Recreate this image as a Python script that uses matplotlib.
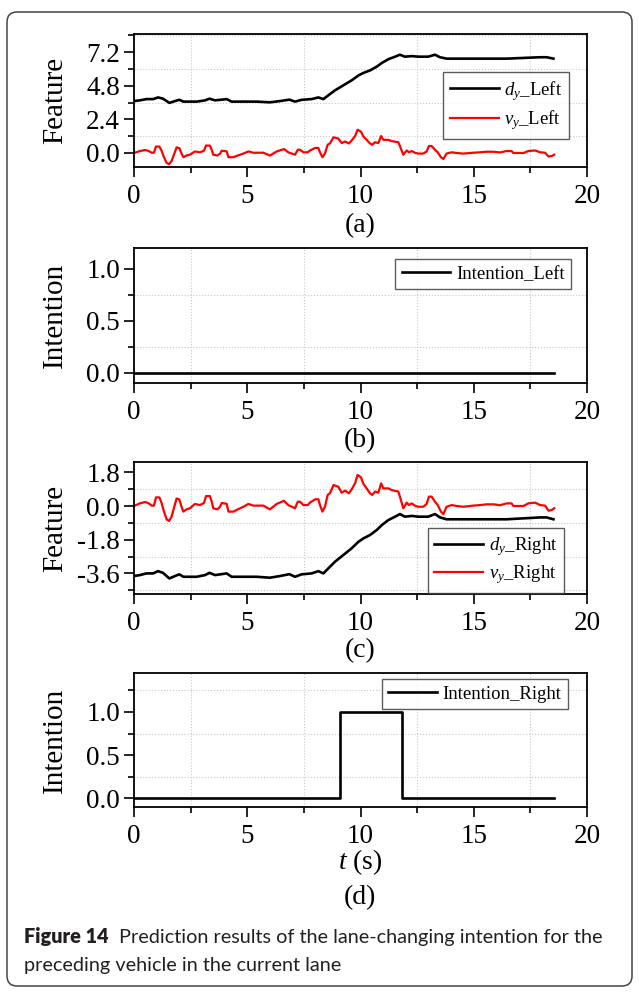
import matplotlib
matplotlib.use("Agg")
import matplotlib.pyplot as plt
import numpy as np
from matplotlib.patches import FancyBboxPatch
from matplotlib.transforms import IdentityTransform
from matplotlib.ticker import MultipleLocator, FormatStrFormatter

plt.rcParams['font.family'] = ['Liberation Serif', 'DejaVu Serif']
plt.rcParams['mathtext.fontset'] = 'custom'
plt.rcParams['mathtext.rm'] = 'Liberation Serif'
plt.rcParams['mathtext.it'] = 'Liberation Serif:italic'
plt.rcParams['axes.unicode_minus'] = False

# lateral velocity (same for left/right panels)
t_v = [0.0, 0.26, 0.48, 0.63, 0.78, 0.88, 0.97, 1.12, 1.22, 1.30,
       1.44, 1.55, 1.66, 1.78, 1.88, 2.0, 2.1, 2.18, 2.32, 2.47,
       2.69, 2.91, 3.09, 3.18, 3.35, 3.43, 3.5, 3.68, 3.8, 3.87,
       4.09, 4.17, 4.39, 4.53, 4.83, 5.05, 5.27, 5.71, 6.0, 6.3,
       6.62, 6.81, 7.11, 7.23, 7.33, 7.48, 7.67, 7.77, 8.0, 8.14,
       8.21, 8.32, 8.43, 8.55, 8.65, 8.81, 9.02, 9.17, 9.32, 9.49,
       9.61, 9.76, 9.87, 10.02, 10.13, 10.27, 10.42, 10.52, 10.64, 10.79,
       10.91, 11.01, 11.23, 11.38, 11.67, 11.74, 11.89, 12.04, 12.14, 12.26,
       12.43, 12.55, 12.77, 12.92, 13.02, 13.14, 13.29, 13.41, 13.55, 13.66,
       13.8, 14.03, 14.25, 14.54, 14.98, 15.28, 15.57, 15.87, 16.16, 16.45,
       16.67, 16.75, 17.19, 17.41, 17.71, 17.93, 18.15, 18.3, 18.45, 18.55]
v_y = [0.0, 0.14, 0.21, 0.16, 0.02, 0.02, 0.46, 0.46, 0.16, -0.21,
       -0.71, -0.80, -0.57, -0.04, 0.40, 0.35, -0.04, -0.30, -0.18, -0.12,
       0.11, 0.05, 0.16, 0.53, 0.53, 0.23, -0.12, -0.18, -0.04, 0.16,
       0.12, -0.30, -0.30, -0.21, -0.04, 0.11, 0.02, 0.02, -0.18, 0.11,
       0.28, 0.05, -0.12, 0.23, 0.23, 0.05, 0.05, 0.18, 0.36, 0.36,
       0.05, -0.30, -0.04, 0.59, 0.68, 1.12, 1.03, 0.71, 0.82, 0.68,
       0.89, 1.21, 1.66, 1.53, 1.18, 0.94, 0.68, 0.59, 0.77, 0.71,
       1.21, 0.94, 0.94, 0.85, 0.77, 0.50, -0.12, 0.18, 0.05, 0.14,
       0.0, -0.04, -0.04, 0.11, 0.50, 0.50, 0.23, 0.05, -0.30, -0.43,
       -0.04, 0.05, 0.0, -0.04, 0.02, 0.05, 0.09, 0.09, 0.04, 0.14,
       0.14, 0.0, 0.0, 0.14, 0.18, 0.05, 0.02, -0.25, -0.21, -0.12]

# lateral distance to the left / right lane line
t_d = [0.0, 0.26, 0.55, 0.85, 1.06, 1.28, 1.56, 1.81, 2.0, 2.18,
       2.77, 3.14, 3.33, 3.58, 3.87, 4.09, 4.31, 4.83, 5.42, 6.0,
       6.45, 6.86, 7.11, 7.4, 7.84, 8.14, 8.36, 8.58, 8.87, 9.24,
       9.61, 9.91, 10.13, 10.42, 10.72, 10.94, 11.23, 11.53, 11.74, 11.96,
       12.26, 12.55, 12.99, 13.29, 13.51, 13.8, 14.98, 16.45, 17.93, 18.22, 18.52]
d_left = [3.71, 3.76, 3.85, 3.85, 3.97, 3.88, 3.58, 3.71, 3.80, 3.67,
          3.67, 3.76, 3.88, 3.76, 3.81, 3.85, 3.67, 3.67, 3.67, 3.62,
          3.71, 3.81, 3.67, 3.80, 3.85, 3.97, 3.85, 4.12, 4.47, 4.83,
          5.19, 5.54, 5.72, 5.90, 6.17, 6.43, 6.70, 6.88, 7.02, 6.88,
          6.92, 6.88, 6.88, 7.02, 6.84, 6.74, 6.74, 6.74, 6.84, 6.84, 6.74]
d_right = [-3.74, -3.69, -3.60, -3.60, -3.48, -3.57, -3.87, -3.74, -3.65, -3.78,
           -3.78, -3.69, -3.57, -3.69, -3.64, -3.60, -3.78, -3.78, -3.78, -3.83,
           -3.74, -3.64, -3.78, -3.65, -3.60, -3.48, -3.60, -3.33, -2.98, -2.62,
           -2.26, -1.91, -1.73, -1.55, -1.28, -1.02, -0.75, -0.57, -0.43, -0.57,
           -0.53, -0.57, -0.57, -0.43, -0.61, -0.71, -0.71, -0.71, -0.61, -0.61, -0.71]

# predicted intention
t_int = [0.0, 18.55]
int_left = [0.0, 0.0]
t_int_r = [0.0, 9.1, 11.83, 18.55]
int_right = [0.0, 1.0, 0.0, 0.0]

W, H = 639, 994
fig = plt.figure(figsize=(W / 100, H / 100), dpi=100)


def px_axes(top, bottom):
    return fig.add_axes([134 / W, (H - bottom) / H, 453 / W, (bottom - top) / H])


def style(ax, ylim, major, minor, ylabel):
    ax.set_xlim(0, 20)
    ax.set_ylim(*ylim)
    ax.xaxis.set_major_locator(MultipleLocator(5))
    ax.xaxis.set_minor_locator(MultipleLocator(2.5))
    ax.yaxis.set_major_locator(MultipleLocator(major))
    ax.yaxis.set_minor_locator(MultipleLocator(minor))
    ax.yaxis.set_major_formatter(FormatStrFormatter('%.1f'))
    ax.tick_params(which='both', direction='out', top=False, right=False,
                   width=1.2, labelsize=19.5, pad=3)
    ax.tick_params(axis='x', which='major', pad=5)
    ax.tick_params(which='major', length=7)
    ax.tick_params(which='minor', length=4)
    ax.grid(which='minor', linestyle=':', color='#c8c8c8', linewidth=0.8)
    for s in ax.spines.values():
        s.set_linewidth(1.3)
    ax.set_ylabel(ylabel, fontsize=21)
    ax.yaxis.set_label_coords(-0.146, 0.5)


def legend(ax, loc, anchor):
    lg = ax.legend(loc=loc, bbox_to_anchor=anchor, borderaxespad=0,
                   fontsize=13.5, frameon=True, fancybox=False,
                   edgecolor='#333333', handlelength=2.6, handletextpad=0.3,
                   borderpad=0.35, labelspacing=0.3)
    lg.get_frame().set_linewidth(1.0)


# (a)
ax = px_axes(34, 167)
ax.plot(t_d, d_left, color='black', lw=1.9, label=r'$d_y$_Left')
ax.plot(t_v, v_y, color='red', lw=1.6, label=r'$v_y$_Left')
style(ax, (-1.0, 8.5), 2.4, 1.2, 'Feature')
legend(ax, 'upper right', (0.96, 0.714))

# (b)
ax = px_axes(248, 383)
ax.plot(t_int, int_left, color='black', lw=1.9, label='Intention_Left')
style(ax, (-0.1, 1.2), 0.5, 0.25, 'Intention')
legend(ax, 'upper right', (0.965, 0.918))

# (c)
ax = px_axes(462, 594)
ax.plot(t_d, d_right, color='black', lw=1.9, label=r'$d_y$_Right')
ax.plot(t_v, v_y, color='red', lw=1.6, label=r'$v_y$_Right')
style(ax, (-4.7, 2.35), 1.8, 0.9, 'Feature')
legend(ax, 'lower right', (0.949, 0.008))

# (d)
ax = px_axes(673, 807)
ax.plot(t_int_r, int_right, color='black', lw=1.9, drawstyle='steps-post',
        label='Intention_Right')
style(ax, (-0.1, 1.45), 0.5, 0.25, 'Intention')
legend(ax, 'upper right', (0.958, 0.955))

for lab, y in [('(a)', 226), ('(b)', 441), ('(c)', 651), ('(d)', 898)]:
    fig.text(360 / W, 1 - y / H, lab, ha='center', va='center', fontsize=20)
fig.text(360 / W, 1 - 862 / H, r'$t$ (s)', ha='center', va='center', fontsize=20)

# outer frame and caption
frame = FancyBboxPatch((7, H - 986), 625, 974,
                       boxstyle='round,pad=0,rounding_size=10',
                       transform=IdentityTransform(), facecolor='none',
                       edgecolor='#444444', linewidth=1.1)
fig.add_artist(frame)

cap_font = ['Lato', 'DejaVu Sans']
r = fig.canvas.get_renderer()
t1 = fig.text(24 / W, 1 - 937 / H, 'Figure 14', family=cap_font,
              fontweight='heavy', fontsize=14.3, va='center', color='#231f20')
bb = t1.get_window_extent(r)
fig.text((bb.x1 + 10) / W, 1 - 937 / H,
         'Prediction results of the lane-changing intention for the',
         family=cap_font, fontsize=14.3, va='center', color='#231f20')
fig.text(24 / W, 1 - 965 / H, 'preceding vehicle in the current lane',
         family=cap_font, fontsize=14.3, va='center', color='#231f20')

fig.savefig('out.png', dpi=100)
